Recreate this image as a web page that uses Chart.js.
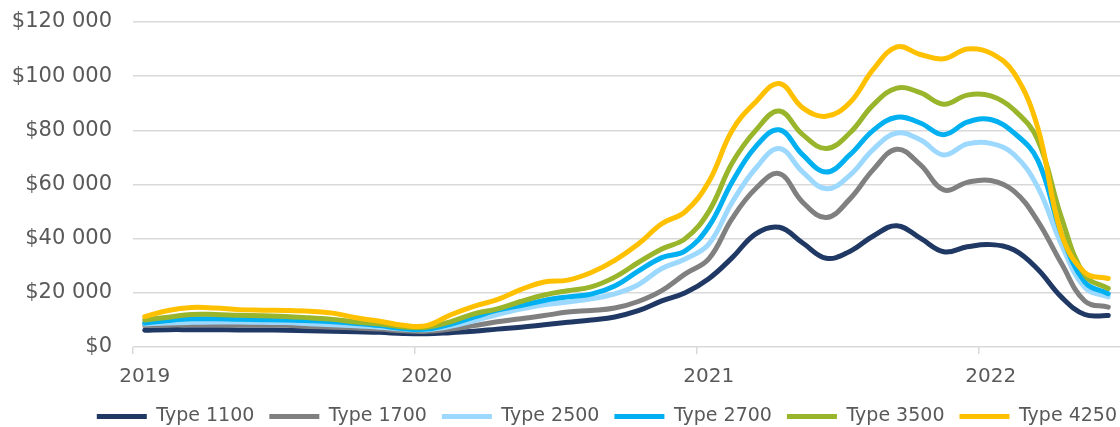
<!DOCTYPE html>
<html>
<head>
<meta charset="utf-8">
<script src="https://cdn.jsdelivr.net/npm/chart.js@4.4.1/dist/chart.umd.min.js"></script>
<style>
  html, body { margin: 0; padding: 0; background: #ffffff; }
  #wrap { width: 1120px; height: 427px; }
</style>
</head>
<body>
<div id="wrap"><canvas id="chart" width="1120" height="427"></canvas></div>
<script>
// Monthly categories, January 2019 to June 2022
const months = [
  '2019-01','2019-02','2019-03','2019-04','2019-05','2019-06','2019-07','2019-08','2019-09','2019-10','2019-11','2019-12',
  '2020-01','2020-02','2020-03','2020-04','2020-05','2020-06','2020-07','2020-08','2020-09','2020-10','2020-11','2020-12',
  '2021-01','2021-02','2021-03','2021-04','2021-05','2021-06','2021-07','2021-08','2021-09','2021-10','2021-11','2021-12',
  '2022-01','2022-02','2022-03','2022-04','2022-05','2022-06'
];

// Series names and colours
const seriesNames  = ['Type 1100', 'Type 1700', 'Type 2500', 'Type 2700', 'Type 3500', 'Type 4250'];
const seriesColors = ['#1F3864', '#808080', '#9DD9FF', '#00B0F0', '#99B52B', '#FFC000'];

// Monthly prices, USD
const type1100 = [6200, 6400, 6400, 6400, 6300, 6300, 6200, 6000, 5800, 5600, 5400, 5000,
                  4900, 5300, 5800, 6600, 7300, 8200, 9100, 10000, 11100, 13400, 17000, 20000,
                  25200, 33000, 41800, 44200, 38400, 32800, 35300, 41000, 44800, 40200, 35200, 37000,
                  37800, 35800, 28700, 18500, 12000, 11600];
const type1700 = [7900, 8100, 8200, 8200, 8100, 8100, 8000, 7600, 7300, 7000, 6600, 6000,
                  5800, 6600, 7900, 9300, 10400, 11600, 12900, 13500, 14400, 16800, 20800, 27000,
                  32500, 47500, 58500, 64000, 53400, 47800, 54600, 65500, 73000, 67300, 58000, 60800,
                  61500, 57500, 46500, 31000, 17000, 14700];
const type2500 = [8500, 8900, 9100, 9200, 9200, 9100, 9000, 8600, 8200, 7800, 7300, 6600,
                  6400, 7600, 9700, 12000, 14000, 15600, 16600, 17800, 19600, 23000, 29000, 32500,
                  38000, 53500, 66000, 73300, 64600, 58400, 63400, 73000, 79000, 76500, 70900, 75000,
                  75200, 71000, 59000, 38000, 22000, 18500];
const type2700 = [8900, 9800, 10400, 10400, 10200, 10100, 10000, 9700, 9300, 8700, 7900, 6800,
                  6600, 8400, 11000, 13600, 15300, 17200, 18500, 19500, 22500, 28000, 33000, 35500,
                  44500, 61000, 74000, 80200, 70900, 64600, 70900, 80000, 84800, 82700, 78400, 83000,
                  84000, 79000, 69000, 42000, 24000, 19700];
const type3500 = [10000, 11000, 12000, 12000, 11700, 11500, 11300, 10800, 10200, 9200, 8500, 7400,
                  7300, 9300, 12200, 14100, 16800, 19200, 20800, 22200, 25800, 31200, 36200, 40000,
                  50000, 68000, 80000, 87100, 78400, 73300, 79000, 89400, 95600, 93900, 89600, 93000,
                  92700, 87500, 76500, 48000, 26500, 21600];
const type4250 = [11200, 13500, 14600, 14400, 13800, 13600, 13500, 13200, 12500, 10800, 9500, 8000,
                  7900, 11800, 15000, 17500, 21200, 24000, 24700, 27500, 32000, 38000, 45500, 50000,
                  61000, 80000, 90500, 97300, 88300, 85200, 90200, 102500, 110800, 108000, 106400, 110000,
                  108500, 101000, 81000, 42000, 27500, 25300];

const seriesValues = [type1100, type1700, type2500, type2700, type3500, type4250];

// Value axis range and step
const yMin = 0;
const yMax = 120000;
const yStep = 20000;

const textColor = '#595959';
const gridColor = '#D9D9D9';
const fontFamily = "'DejaVu Sans', 'Liberation Sans', Arial, sans-serif";

function formatDollars(v) {
  return '$' + String(v).replace(/\B(?=(\d{3})+(?!\d))/g, ' ');
}

// A year label sits on each January
function yearOf(index) {
  const m = months[index];
  return m && m.endsWith('-01') ? m.slice(0, 4) : '';
}

const datasets = seriesNames.map((name, i) => ({
  label: name,
  data: seriesValues[i],
  borderColor: seriesColors[i],
  backgroundColor: seriesColors[i],
  borderWidth: 5,
  borderCapStyle: 'round',
  borderJoinStyle: 'round',
  pointRadius: 0,
  pointHoverRadius: 0,
  tension: 0.4,
  fill: false,
  // later series are painted over earlier ones
  order: seriesNames.length - i
}));

new Chart(document.getElementById('chart'), {
  type: 'line',
  data: { labels: months, datasets },
  options: {
    responsive: false,
    animation: false,
    events: [],
    layout: { padding: { top: 22, right: -12, bottom: -9, left: 0 } },
    scales: {
      x: {
        type: 'category',
        offset: true,
        grid: {
          offset: true,
          drawOnChartArea: false,
          drawTicks: true,
          tickLength: 7,
          lineWidth: 1.5,
          color: (ctx) => (ctx.tick && yearOf(ctx.index) ? gridColor : 'rgba(0,0,0,0)')
        },
        border: { display: false },
        ticks: {
          autoSkip: false,
          maxRotation: 0,
          minRotation: 0,
          padding: 11,
          color: textColor,
          font: { family: fontFamily, size: 20 },
          callback: (value, index) => yearOf(index)
        },
        afterFit: (scale) => { scale.height = 45; }
      },
      y: {
        min: yMin,
        max: yMax,
        grid: {
          color: gridColor,
          lineWidth: 1.5,
          drawTicks: false
        },
        border: { display: false },
        ticks: {
          stepSize: yStep,
          padding: 21,
          color: textColor,
          font: { family: fontFamily, size: 21 },
          callback: (v) => formatDollars(v)
        },
        afterFit: (scale) => {
          scale.width = 133;
          scale.paddingTop = 0;
          scale.paddingBottom = 0;
        }
      }
    },
    plugins: {
      tooltip: { enabled: false },
      title: { display: false },
      legend: {
        display: true,
        position: 'bottom',
        align: 'end',
        labels: {
          usePointStyle: true,
          pointStyle: 'line',
          pointStyleWidth: 50,
          boxHeight: 18,
          padding: 15,
          color: textColor,
          font: { family: fontFamily, size: 19 },
          sort: (a, b) => a.datasetIndex - b.datasetIndex
        }
      }
    }
  }
});
</script>
</body>
</html>
